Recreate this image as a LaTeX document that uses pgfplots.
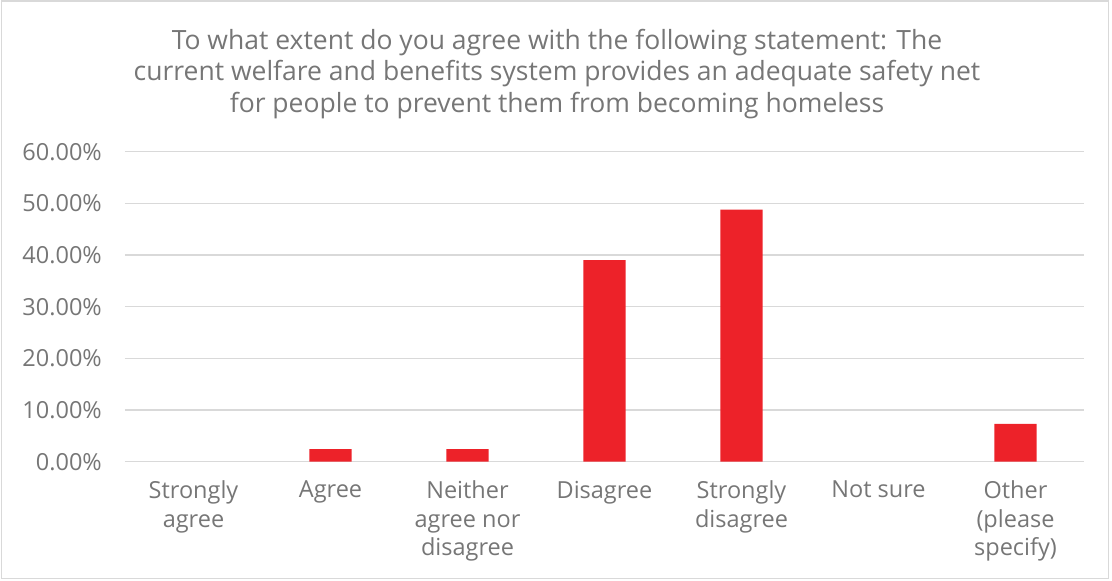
\documentclass[border=0pt]{standalone}
\usepackage{pgfplots}
\pgfplotsset{compat=1.18}
\usepackage{fontspec}
\setmainfont{Open Sans}
\definecolor{barred}{HTML}{ED2229}
\definecolor{txtgray}{HTML}{767676}
\definecolor{gridgray}{HTML}{D9D9D9}
\begin{document}
\begin{tikzpicture}
\useasboundingbox (0pt,0pt) rectangle (1112pt,581pt);
\draw[gridgray, line width=1.2pt] (1.5pt,2.5pt) rectangle (1108.5pt,580pt);
\node[align=center, text=txtgray, font=\fontsize{26.5}{31.5}\selectfont] at (557pt,507pt)
 {To what extent do you agree with the following statement: The\\current welfare and benefits system provides an adequate safety net\\for people to prevent them from becoming homeless};
\begin{axis}[
  at={(125pt,119.3pt)}, anchor=south west,
  scale only axis, width=959pt, height=310pt,
  xmin=-0.5, xmax=6.5, ymin=0, ymax=60,
  ytick={0,10,...,60},
  xtick={0,...,6},
  xticklabels={Strongly\\agree, Agree, Neither\\agree nor\\disagree, Disagree, Strongly\\disagree, Not sure, Other\\(please\\specify)},
  axis line style={draw=none},
  major tick length=0pt,
  ymajorgrids, grid style={gridgray, line width=1.3pt},
  /pgf/number format/assume math mode=true,
  yticklabel={\pgfmathprintnumber[fixed,fixed zerofill,precision=2]{\tick}\%},
  yticklabel style={anchor=east, inner sep=0pt, xshift=-23pt, text=txtgray, font=\fontsize{23.5}{25}\selectfont},
  xticklabel style={anchor=north, inner sep=0pt, yshift=-19pt, align=center, text=txtgray, font=\fontsize{23.5}{28.5}\selectfont},
  clip=false,
]
% Strongly agree = 0, Not sure = 0 (no visible bar)
\addplot[ybar, bar width=0.31, fill=barred, draw=none] coordinates {
 (1,2.44) (2,2.44) (3,39.02) (4,48.78) (6,7.32)
};
\end{axis}
\end{tikzpicture}
\end{document}
